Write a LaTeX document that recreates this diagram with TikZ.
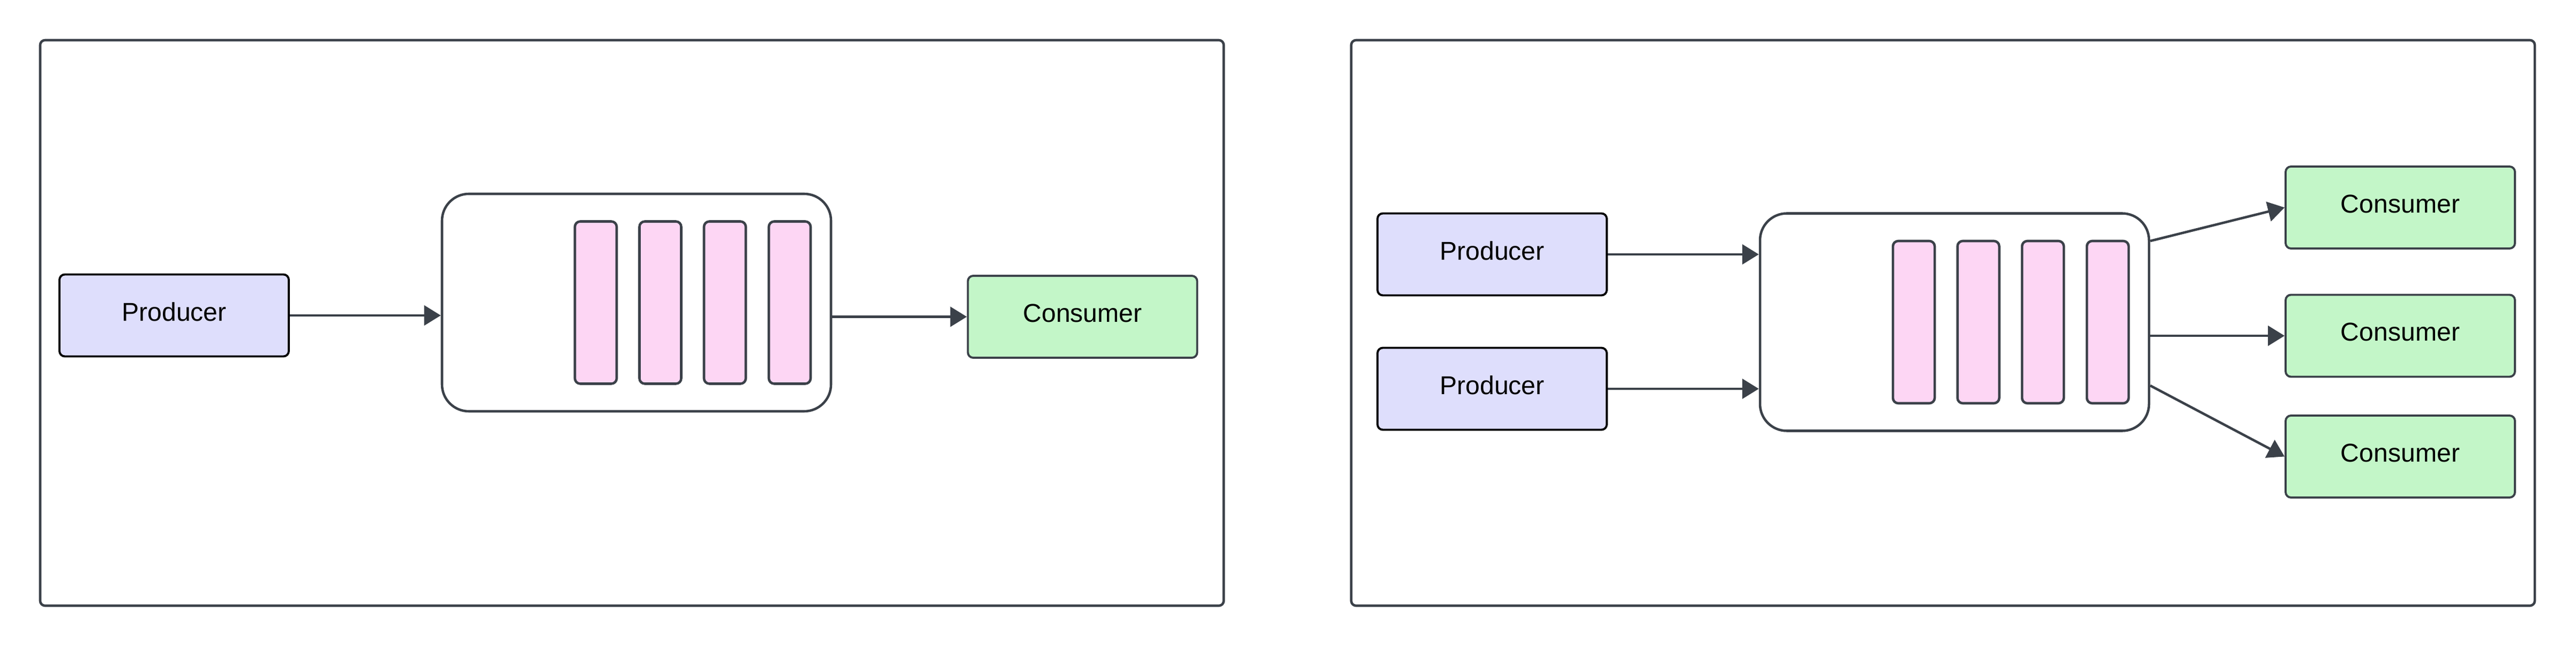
\documentclass[tikz,border=0pt]{standalone}
\usepackage{fontspec}
\setmainfont{Liberation Sans}
\usepackage{xcolor}
\usepackage{tikz}
\usetikzlibrary{arrows.meta, positioning}

\definecolor{edgegray}{HTML}{3B4149}
\definecolor{prodfill}{HTML}{DEDEFC}
\definecolor{consfill}{HTML}{C3F6C8}
\definecolor{slotfill}{HTML}{FDD6F4}

\begin{document}
\begin{tikzpicture}[
        font=\fontsize{13.7pt}{16pt}\selectfont,
        frame/.style={rectangle, draw=edgegray, line width=1.3pt, rounded corners=0.09cm, minimum width=22.09cm, minimum height=10.56cm, inner sep=0pt},
        producer/.style={rectangle, draw=black, line width=1.1pt, fill=prodfill, rounded corners=0.1cm, minimum width=4.28cm, minimum height=1.53cm, inner sep=0pt, text depth=0.14cm},
        consumer/.style={rectangle, draw=edgegray, line width=1.1pt, fill=consfill, rounded corners=0.1cm, minimum width=4.28cm, minimum height=1.53cm, inner sep=0pt, text depth=0.14cm},
        queue/.style={rectangle, draw=edgegray, line width=1.3pt, fill=white, rounded corners=0.5cm, minimum width=7.26cm, minimum height=4.06cm, inner sep=0pt},
        slot/.style={rectangle, draw=edgegray, line width=1.3pt, fill=slotfill, rounded corners=0.1cm, minimum width=0.78cm, minimum height=3.03cm, inner sep=0pt},
        line/.style={draw=edgegray, line width=1.3pt, -{Triangle[length=0.31cm, width=0.37cm]}}
    ]
        \useasboundingbox (0,0) rectangle (48.08,12.09);

        % one producer, one consumer
        \node [frame] (panelL) at (11.795,6.06) {};
        \node [producer] (prodL) at (3.25,6.20) {Producer};
        \node [queue] (queueL) at (11.88,6.44) {};
        \node [consumer] (consL) at (20.205,6.175) {Consumer};
        \foreach \i/\dx in {1/-0.76, 2/0.445, 3/1.65, 4/2.86}
            \node [slot] (slotL\i) at ([xshift=\dx cm]queueL.center) {};

        \path [line] (prodL.east) -- (prodL.east -| queueL.west);
        \path [line] (queueL.east |- consL.west) -- (consL.west);

        % many producers, many consumers
        \node [frame] (panelR) at (36.265,6.06) {};
        \node [producer] (prodA) at (27.85,7.34) {Producer};
        \node [producer, below of=prodA, node distance=2.51cm] (prodB) {Producer};
        \node [queue] (queueR) at (36.48,6.075) {};
        \node [consumer] (consA) at (44.80,8.215) {Consumer};
        \node [consumer] (consB) at (44.80,5.82) {Consumer};
        \node [consumer] (consC) at (44.80,3.565) {Consumer};
        \foreach \i/\dx in {1/-0.76, 2/0.445, 3/1.65, 4/2.86}
            \node [slot] (slotR\i) at ([xshift=\dx cm]queueR.center) {};

        \path [line] (prodA.east) -- (prodA.east -| queueR.west);
        \path [line] (prodB.east) -- (prodB.east -| queueR.west);
        \path [line] ([yshift=1.515cm]queueR.east) -- (consA.west);
        \path [line] (queueR.east |- consB.west) -- (consB.west);
        \path [line] ([yshift=-1.185cm]queueR.east) -- (consC.west);
    \end{tikzpicture}
\end{document}
